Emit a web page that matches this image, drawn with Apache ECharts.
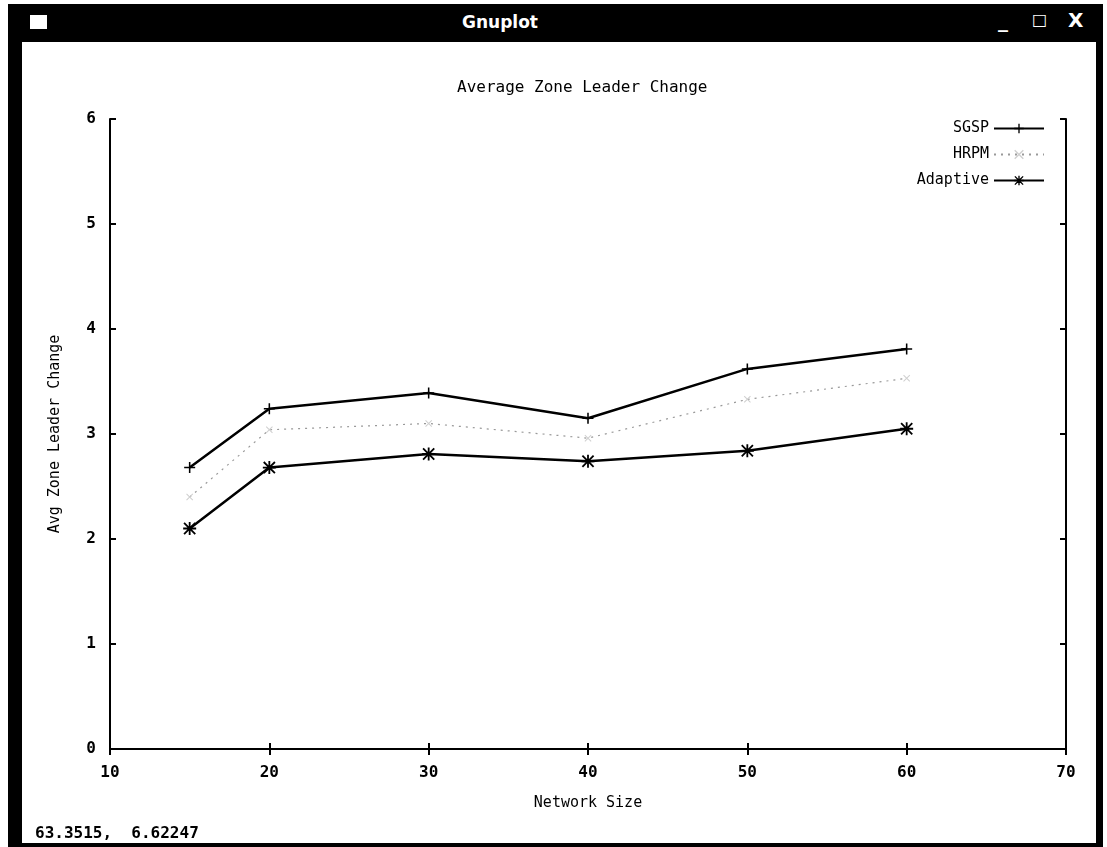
<!DOCTYPE html>
<html>
<head>
<meta charset="utf-8">
<title>Gnuplot</title>
<script src="https://cdn.jsdelivr.net/npm/echarts@6/dist/echarts.min.js"></script>
<style>
  html, body { margin: 0; padding: 0; background: #fff; }
  #page { position: relative; width: 1107px; height: 847px; overflow: hidden; background: #fff; }
  #chart { position: absolute; left: 0; top: 0; width: 1107px; height: 847px; }
  .frame { position: absolute; background: #000; pointer-events: none; }
  #titlebar { left: 8px; top: 4px; width: 1095px; height: 38px; }
  #titlebar .name { position: absolute; left: 392px; width: 200px; top: 8px; text-align: center;
    color: #fff; font: bold 17px "DejaVu Sans", sans-serif; }
  #titlebar .icon { position: absolute; left: 22px; top: 11px; width: 17px; height: 14px; background: #fff; }
  #titlebar .btn { position: absolute; top: 4px; color: #fff; font: bold 20px "DejaVu Sans", sans-serif; }
</style>
</head>
<body>
<div id="page">
  <div id="chart"></div>
  <div class="frame" id="titlebar">
    <div class="icon"></div>
    <div class="name">Gnuplot</div>
    <div class="btn" style="left:990px;">_</div>
    <div class="btn" style="left:1024px;top:6px;font-size:16px;">&#9633;</div>
    <div class="btn" style="left:1060px;">X</div>
  </div>
  <div class="frame" style="left:8px;top:40px;width:14px;height:807px;"></div>
  <div class="frame" style="left:1096px;top:40px;width:7px;height:807px;"></div>
  <div class="frame" style="left:8px;top:843px;width:1095px;height:4px;"></div>
</div>
<script>
// Average zone leader change per protocol, by network size
const networkSizes = [15, 20, 30, 40, 50, 60];
const sgsp = [2.68, 3.24, 3.39, 3.15, 3.62, 3.81];
const hrpm = [2.40, 3.04, 3.10, 2.96, 3.33, 3.53];
const adaptive = [2.10, 2.68, 2.81, 2.74, 2.84, 3.05];
const xTicks = [10, 20, 30, 40, 50, 60, 70];
const yTicks = [0, 1, 2, 3, 4, 5, 6];
const statusText = '63.3515,  6.62247';

const FONT = '"DejaVu Sans Mono", "Liberation Mono", monospace';
const PLUS = 'path://M4.3,0H5.7V4.3H10V5.7H5.7V10H4.3V5.7H0V4.3H4.3Z';
const STAR = 'path://M4.3,0H5.7V4.3H10V5.7H5.7V10H4.3V5.7H0V4.3H4.3Z' +
  'M1.2,0.2L5,4L8.8,0.2L9.8,1.2L6,5L9.8,8.8L8.8,9.8L5,6L1.2,9.8L0.2,8.8L4,5L0.2,1.2Z';
const CROSS = 'path://M1.2,0.2L5,4L8.8,0.2L9.8,1.2L6,5L9.8,8.8L8.8,9.8L5,6L1.2,9.8L0.2,8.8L4,5L0.2,1.2Z';

const pairs = ys => networkSizes.map((x, i) => [x, ys[i]]);

const chart = echarts.init(document.getElementById('chart'), null, { renderer: 'canvas' });

const tickStyle = { show: true, inside: true, length: 6, lineStyle: { color: '#000', width: 2 } };
const lineAxis = { show: true, lineStyle: { color: '#000', width: 2 } };

chart.setOption({
  animation: false,
  backgroundColor: 'transparent',
  title: {
    text: 'Average Zone Leader Change',
    left: 452,
    top: 75,
    textStyle: { fontFamily: FONT, fontSize: 16, fontWeight: 'normal', color: '#000' }
  },
  legend: {
    orient: 'vertical',
    right: 62,
    top: 121,
    padding: 0,
    align: 'right',
    itemWidth: 50,
    itemHeight: 12,
    itemGap: 11,
    textStyle: { fontFamily: FONT, fontSize: 15, color: '#000' },
    data: ['SGSP', 'HRPM', 'Adaptive']
  },
  grid: { left: 110, top: 119, width: 956, height: 630, containLabel: false },
  xAxis: [{
    type: 'value', min: 10, max: 70, interval: 10,
    name: 'Network Size', nameLocation: 'middle', nameGap: 47,
    nameTextStyle: { fontFamily: FONT, fontSize: 15, color: '#000' },
    axisLine: lineAxis, axisTick: tickStyle, splitLine: { show: false },
    axisLabel: { margin: 16, fontFamily: FONT, fontSize: 16, fontWeight: 'bold', color: '#000' }
  }, {
    type: 'value', min: 10, max: 70, interval: 10, position: 'top',
    axisLine: lineAxis, axisTick: tickStyle, axisLabel: { show: false }, splitLine: { show: false }
  }],
  yAxis: [{
    type: 'value', min: 0, max: 6, interval: 1,
    name: 'Avg Zone Leader Change', nameLocation: 'middle', nameGap: 47,
    nameTextStyle: { fontFamily: FONT, fontSize: 15, color: '#000' },
    axisLine: lineAxis, axisTick: tickStyle, splitLine: { show: false },
    axisLabel: { margin: 14, fontFamily: FONT, fontSize: 16, fontWeight: 'bold', color: '#000' }
  }, {
    type: 'value', min: 0, max: 6, interval: 1, position: 'right',
    axisLine: lineAxis, axisTick: tickStyle, axisLabel: { show: false }, splitLine: { show: false }
  }],
  series: [{
    name: 'SGSP', type: 'line', data: pairs(sgsp),
    symbol: PLUS, symbolSize: 11, showAllSymbol: true,
    lineStyle: { color: '#000', width: 2.5 },
    itemStyle: { color: '#000' }
  }, {
    name: 'HRPM', type: 'line', data: pairs(hrpm),
    symbol: CROSS, symbolSize: 7,
    lineStyle: { color: '#999', width: 1.2, type: [2, 5] },
    itemStyle: { color: '#d0d0d0' }
  }, {
    name: 'Adaptive', type: 'line', data: pairs(adaptive),
    symbol: STAR, symbolSize: 13,
    lineStyle: { color: '#000', width: 2.5 },
    itemStyle: { color: '#000' }
  }],
  graphic: [{
    type: 'text', left: 35, top: 826,
    style: { text: statusText, fontFamily: FONT, fontSize: 16, fontWeight: 'bold', fill: '#000' }
  }]
});
</script>
</body>
</html>
